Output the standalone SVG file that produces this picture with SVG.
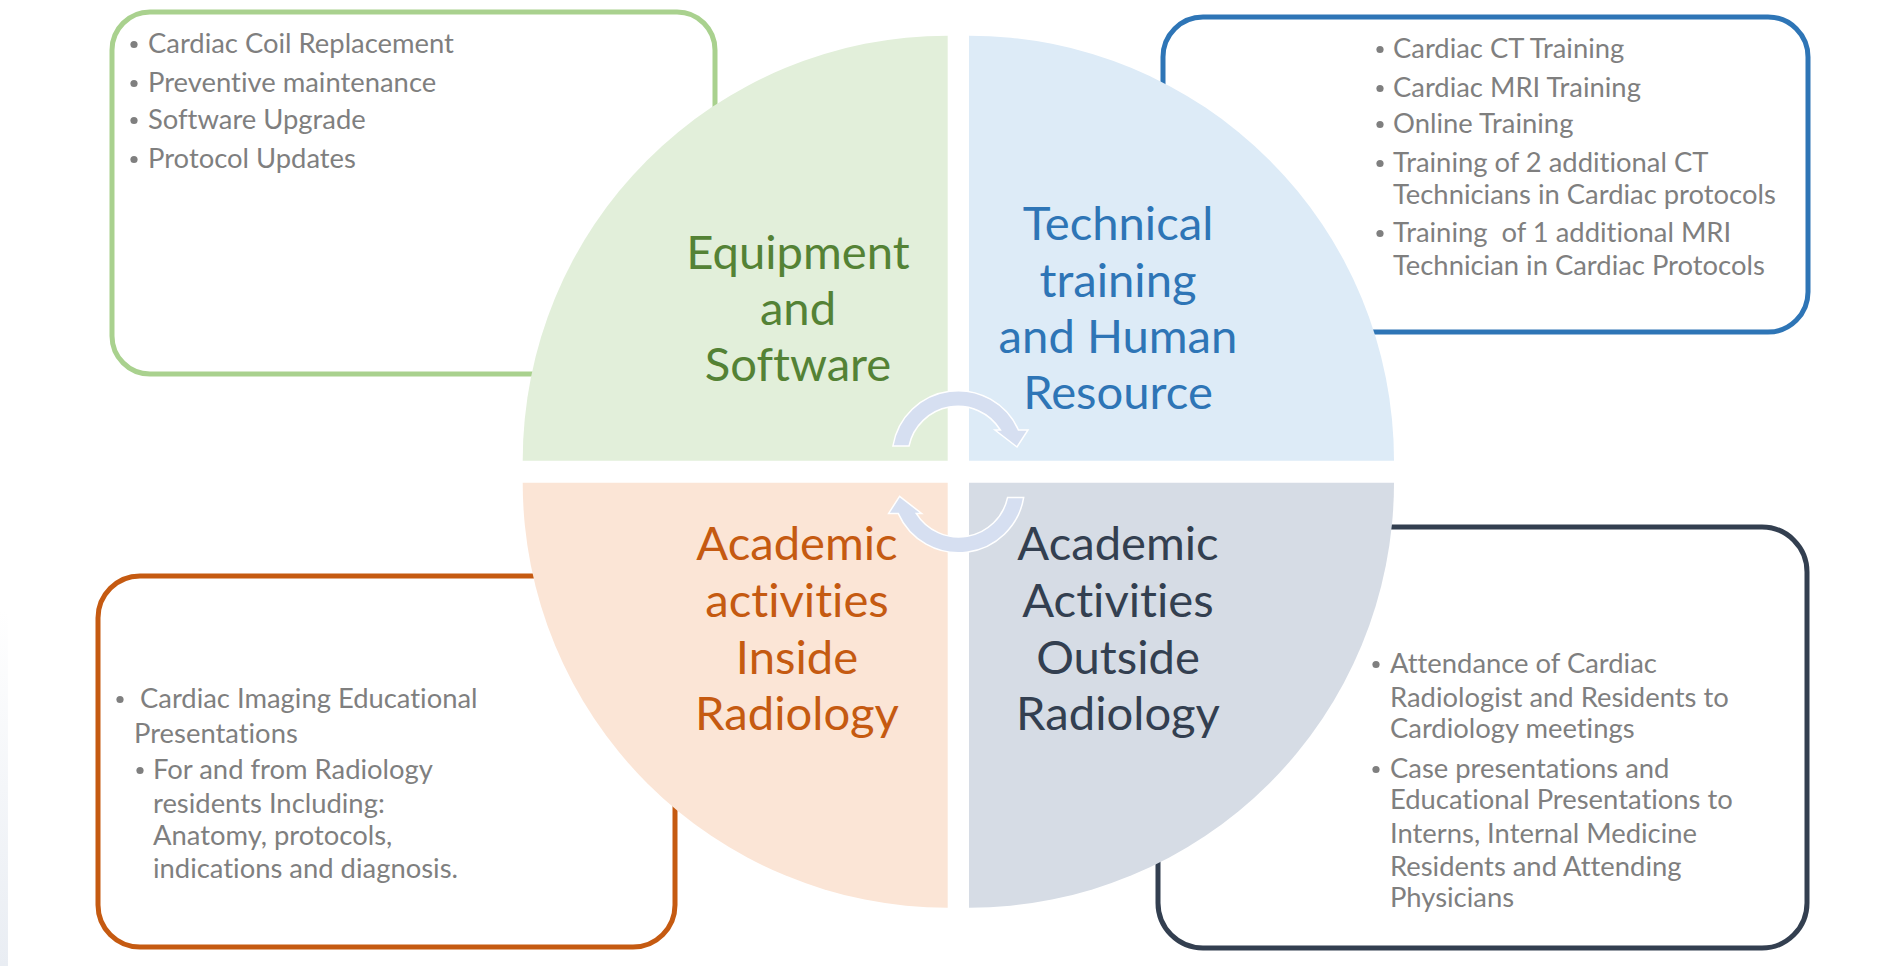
<svg xmlns="http://www.w3.org/2000/svg" width="1895" height="966" viewBox="0 0 1895 966">
<defs>
<linearGradient id="edge" x1="0" y1="0" x2="0" y2="1">
<stop offset="0" stop-color="#ffffff"/>
<stop offset="1" stop-color="#e9edf3"/>
</linearGradient>
<style>
.box{fill:#ffffff;stroke-width:5}
.t{font-family:Lato,"Open Sans",sans-serif;font-size:27.4px;fill:#7f7f7f;font-variant-ligatures:none}
.b{fill:#7f7f7f}
.lbl{font-family:Lato,"Open Sans",sans-serif;font-size:47.2px;text-anchor:middle;font-variant-ligatures:none}
.arr{fill:#d6dff1;stroke:#ffffff;stroke-width:1.5}
</style>
</defs>
<rect x="0" y="0" width="1895" height="966" fill="#ffffff"/>
<rect x="0" y="610" width="8" height="356" fill="url(#edge)"/>

<g id="equipment">
<rect class="box" x="112" y="12" width="603" height="362" rx="38" stroke="#a9d18e"/>
<path d="M947.7 460.7 H522.7 A425 425 0 0 1 947.7 35.7 Z" fill="#e2efda"/>
<g class="lbl" fill="#548235">
<text x="798" y="269">Equipment</text>
<text x="798" y="325">and</text>
<text x="798" y="381">Software</text>
</g>
<g class="b">
<circle cx="134" cy="44.5" r="3.6"/><circle cx="134" cy="83.5" r="3.6"/><circle cx="134" cy="120.5" r="3.6"/><circle cx="134" cy="159.5" r="3.6"/>
</g>
<g class="t">
<text x="148" y="53">Cardiac Coil Replacement</text>
<text x="148" y="92">Preventive maintenance</text>
<text x="148" y="129">Software Upgrade</text>
<text x="148" y="168">Protocol Updates</text>
</g>
</g>

<g id="technical">
<rect class="box" x="1163" y="17" width="645" height="315" rx="40" stroke="#2e75b6"/>
<path d="M969 460.7 V35.7 A425 425 0 0 1 1394 460.7 Z" fill="#ddebf7"/>
<g class="lbl" fill="#2e75b6">
<text x="1118" y="240">Technical</text>
<text x="1118" y="297">training</text>
<text x="1118" y="353">and Human</text>
<text x="1118" y="409">Resource</text>
</g>
<g class="b">
<circle cx="1380" cy="49.5" r="3.6"/><circle cx="1380" cy="88.5" r="3.6"/><circle cx="1380" cy="124.5" r="3.6"/><circle cx="1380" cy="163.5" r="3.6"/><circle cx="1380" cy="233.5" r="3.6"/>
</g>
<g class="t">
<text x="1393" y="58">Cardiac CT Training</text>
<text x="1393" y="97">Cardiac MRI Training</text>
<text x="1393" y="133">Online Training</text>
<text x="1393" y="172">Training of 2 additional CT</text>
<text x="1393" y="204">Technicians in Cardiac protocols</text>
<text x="1393" y="242" xml:space="preserve">Training  of 1 additional MRI</text>
<text x="1393" y="275">Technician in Cardiac Protocols</text>
</g>
</g>

<g id="inside">
<rect class="box" x="98" y="576" width="577" height="371" rx="42" stroke="#c55a11"/>
<path d="M947.7 482.7 V907.7 A425 425 0 0 1 522.7 482.7 Z" fill="#fbe5d6"/>
<g class="lbl" fill="#c55a11">
<text x="797" y="560">Academic</text>
<text x="797" y="617">activities</text>
<text x="797" y="674">Inside</text>
<text x="797" y="730">Radiology</text>
</g>
<g class="b">
<circle cx="120" cy="699.5" r="3.6"/><circle cx="140" cy="770.5" r="3.6"/>
</g>
<g class="t">
<text x="140" y="708">Cardiac Imaging Educational</text>
<text x="134" y="743">Presentations</text>
<text x="153" y="779">For and from Radiology</text>
<text x="153" y="813">residents Including:</text>
<text x="153" y="845">Anatomy, protocols,</text>
<text x="153" y="878">indications and diagnosis.</text>
</g>
</g>

<g id="outside">
<rect class="box" x="1158" y="527" width="649" height="421" rx="45" stroke="#333f50"/>
<path d="M969 482.7 H1394 A425 425 0 0 1 969 907.7 Z" fill="#d6dce5"/>
<g class="lbl" fill="#333f50">
<text x="1118" y="560">Academic</text>
<text x="1118" y="617">Activities</text>
<text x="1118" y="674">Outside</text>
<text x="1118" y="730">Radiology</text>
</g>
<g class="b">
<circle cx="1376" cy="664.5" r="3.6"/><circle cx="1376" cy="769.5" r="3.6"/>
</g>
<g class="t">
<text x="1390" y="673">Attendance of Cardiac</text>
<text x="1390" y="707">Radiologist and Residents to</text>
<text x="1390" y="738">Cardiology meetings</text>
<text x="1390" y="778">Case presentations and</text>
<text x="1390" y="809">Educational Presentations to</text>
<text x="1390" y="843">Interns, Internal Medicine</text>
<text x="1390" y="876">Residents and Attending</text>
<text x="1390" y="907">Physicians</text>
</g>
</g>

<g id="connectors">
<path id="arrowTop" class="arr" d="M892.9 446 A66 66 0 0 1 1018.4 430 L1028 430 L1017 447 L995 430 L1000.4 430 A50 50 0 0 0 909 446 Z"/>
<path id="arrowBottom" class="arr" transform="rotate(180 958.3 471.7)" d="M892.9 446 A66 66 0 0 1 1018.4 430 L1028 430 L1017 447 L995 430 L1000.4 430 A50 50 0 0 0 909 446 Z"/>
</g>
</svg>
